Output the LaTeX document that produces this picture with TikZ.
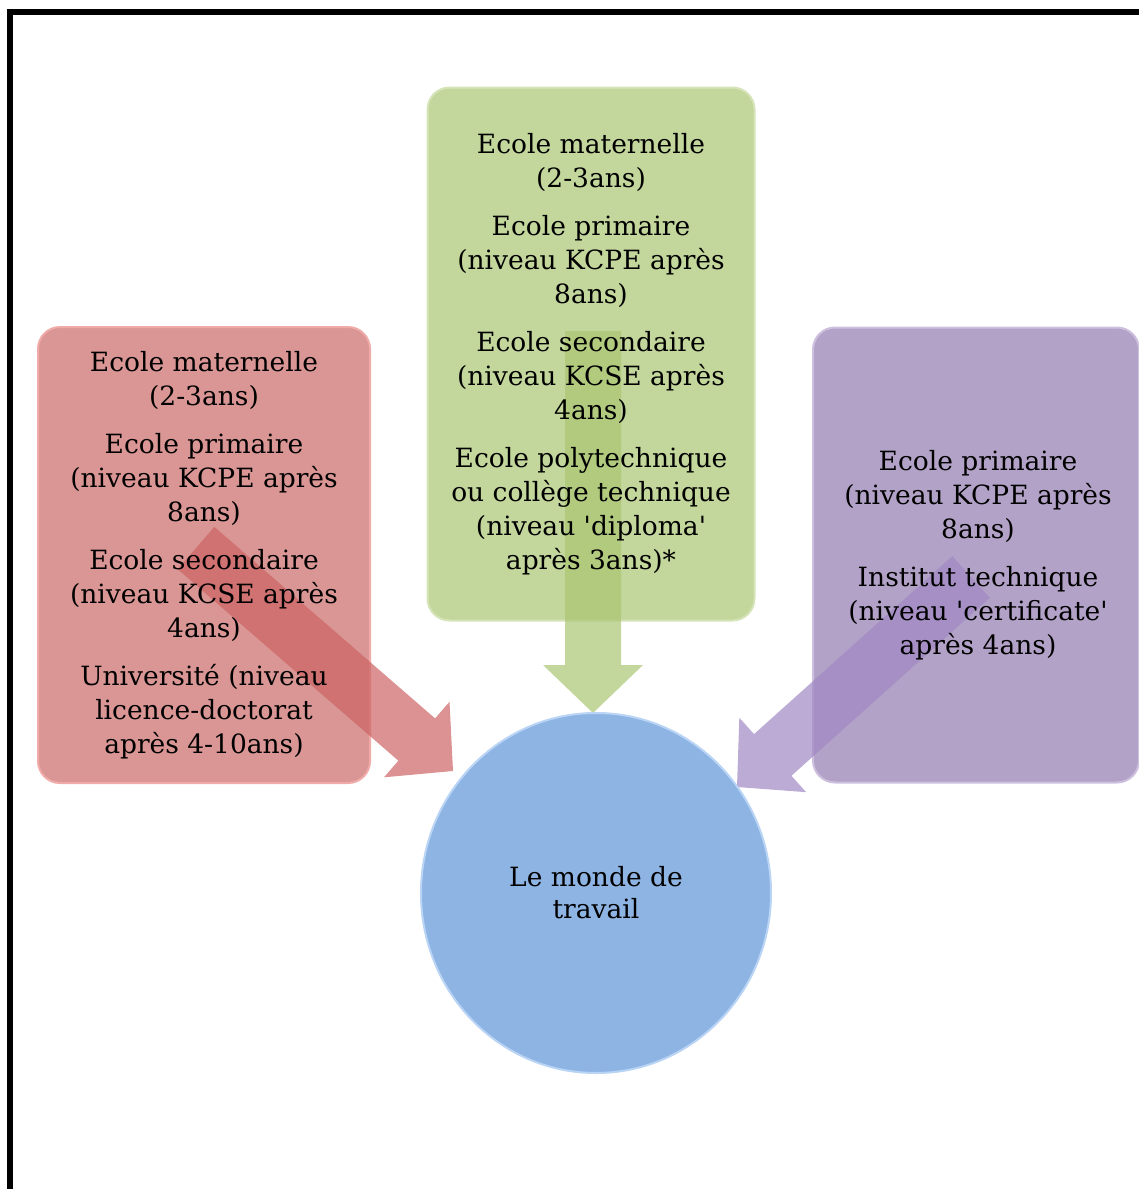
\documentclass[tikz,border=0pt]{standalone}
\usepackage{fontspec}
\setmainfont{DejaVu Serif}[Ligatures=TeXOff]
\usetikzlibrary{calc,shapes.geometric}

\definecolor{redfill}{RGB}{217,150,148}
\definecolor{redline}{RGB}{240,170,168}
\definecolor{redarrow}{RGB}{205,100,100}
\definecolor{greenfill}{RGB}{195,214,155}
\definecolor{greenline}{RGB}{214,228,185}
\definecolor{greenarrow}{RGB}{170,198,115}
\definecolor{purplefill}{RGB}{179,162,199}
\definecolor{purpleline}{RGB}{205,192,222}
\definecolor{purplearrow}{RGB}{160,135,195}
\definecolor{bluefill}{RGB}{142,180,227}
\definecolor{blueline}{RGB}{185,212,245}

% fat block arrow from #2 to #3, filled with style #1
\newcommand{\fatarrow}[3]{%
  \fill[#1] ($(#2)!28pt!90:(#3)$)
    -- ($(#3)!48pt!(#2)!28pt!90:(#3)$)
    -- ($(#3)!48pt!(#2)!50pt!90:(#3)$)
    -- (#3)
    -- ($(#3)!48pt!(#2)!50pt!-90:(#3)$)
    -- ($(#3)!48pt!(#2)!28pt!-90:(#3)$)
    -- ($(#2)!28pt!-90:(#3)$) -- cycle;}

\begin{document}
\begin{tikzpicture}[x=1pt, y=-1pt,
  font=\fontsize{26.5pt}{34pt}\selectfont,
  level/.style={draw, line width=2pt, rounded corners=22pt, inner sep=0pt},
  label/.style={align=center, inner sep=0pt},
  flow/.style={fill opacity=0.7}]
\useasboundingbox (0,0) rectangle (1139,1189);
% frame
\draw[line width=6pt] (10,1189) -- (10,12) -- (1139,12);

% the three school paths
\node[level, fill=redfill, draw=redline, minimum width=332pt, minimum height=456pt] (kenya) at (204,555) {};
\node[level, fill=greenfill, draw=greenline, minimum width=327pt, minimum height=533pt] (poly) at (591,354) {};
\node[level, fill=purplefill, draw=purpleline, minimum width=326pt, minimum height=455pt] (inst) at (976,555) {};

% arrows into the circle
\coordinate (kstart) at (196,548);
\coordinate (ktip) at (453,771);
\coordinate (pstart) at (593,331);
\coordinate (ptip) at (593,713);
\coordinate (istart) at (971,577);
\coordinate (itip) at (737,787);
\fatarrow{flow, fill=redarrow}{kstart}{ktip}
\fatarrow{flow, fill=greenarrow}{pstart}{ptip}
\fatarrow{flow, fill=purplearrow}{istart}{itip}

\node[label] (kenyatext) at (kenya.center)
  {Ecole maternelle\\(2-3ans)\\[14pt]Ecole primaire\\(niveau KCPE après\\8ans)\\[14pt]Ecole secondaire\\(niveau KCSE après\\4ans)\\[14pt]Université (niveau\\licence-doctorat\\après 4-10ans)};
\node[label] (polytext) at (poly.center)
  {Ecole maternelle\\(2-3ans)\\[14pt]Ecole primaire\\(niveau KCPE après\\8ans)\\[14pt]Ecole secondaire\\(niveau KCSE après\\4ans)\\[14pt]Ecole polytechnique\\ou collège technique\\(niveau 'diploma'\\après 3ans)*};
\node[label] (insttext) at ([xshift=2pt]inst.center)
  {Ecole primaire\\(niveau KCPE après\\8ans)\\[14pt]Institut technique\\(niveau 'certificate'\\après 4ans)};

\node[ellipse, draw=blueline, line width=2pt, fill=bluefill, minimum width=350pt, minimum height=360pt,
  align=center, font=\fontsize{26.5pt}{32pt}\selectfont] (monde) at (596,893) {Le monde de\\travail};
\end{tikzpicture}
\end{document}
